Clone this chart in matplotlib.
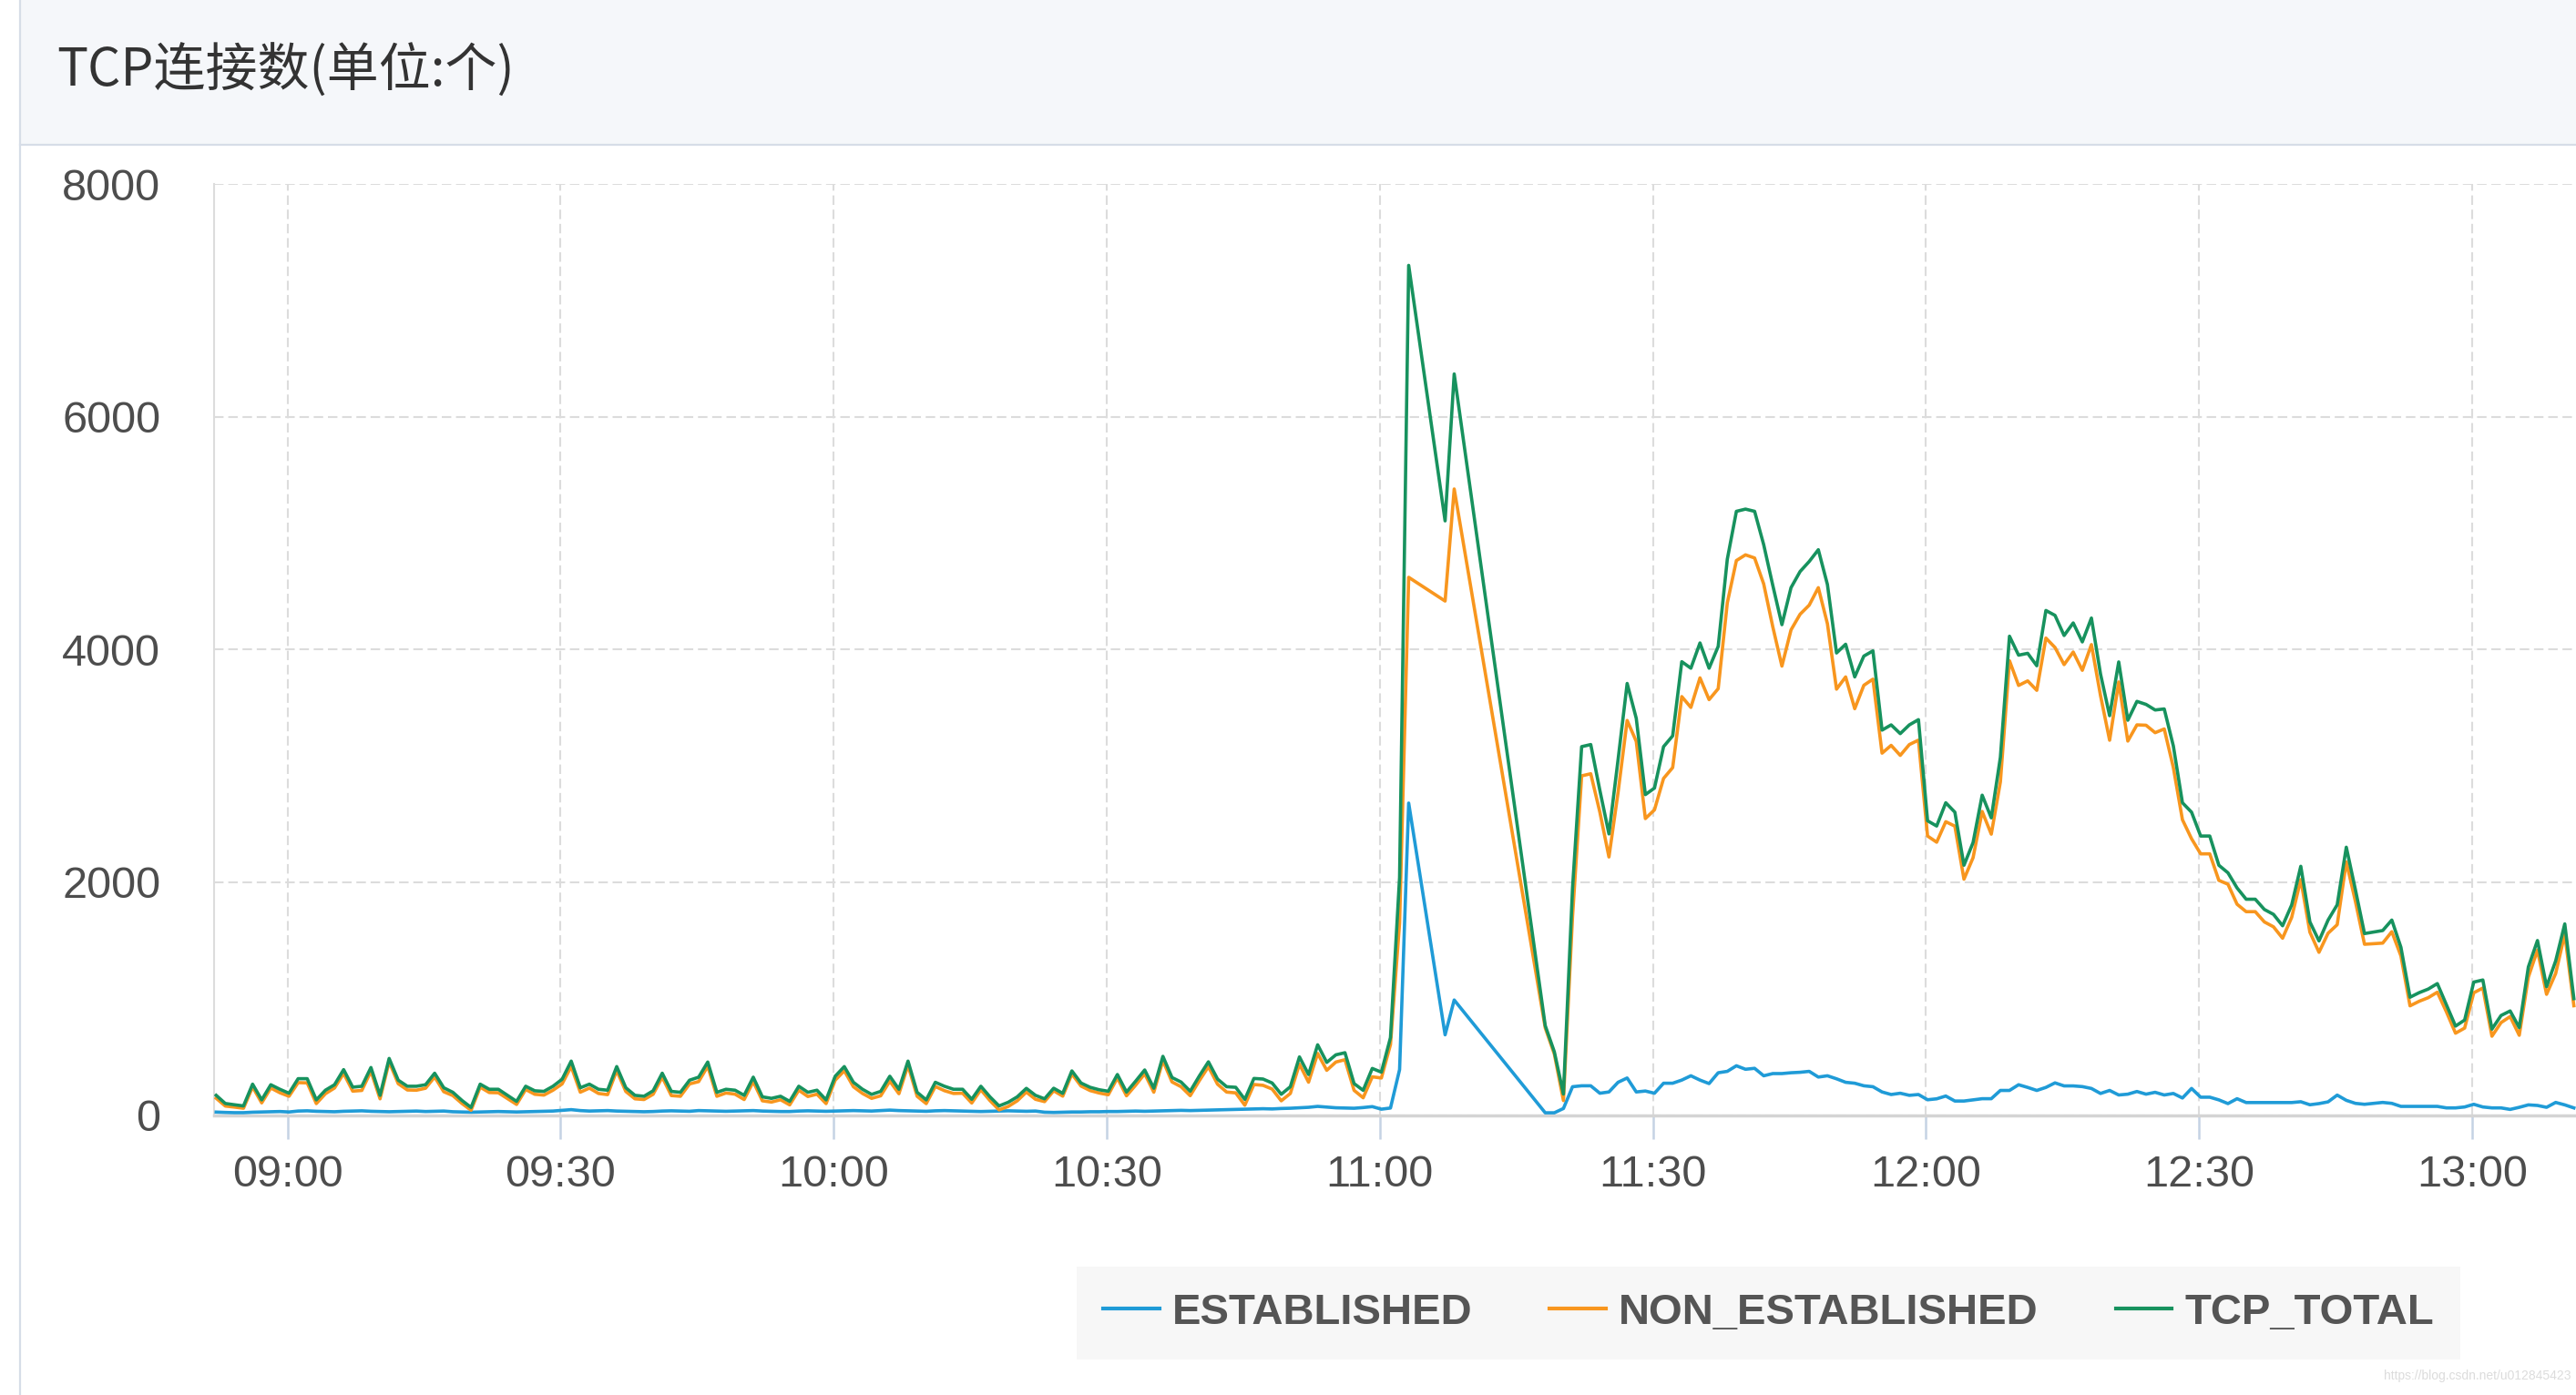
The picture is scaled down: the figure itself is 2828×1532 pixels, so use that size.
import numpy as np
import pandas as pd
import matplotlib
matplotlib.use("Agg")
import matplotlib.pyplot as plt
import matplotlib.dates as mdates
from matplotlib.patches import Rectangle
from matplotlib.lines import Line2D

plt.rcParams['font.family'] = ['Liberation Sans', 'Noto Sans CJK SC', 'DejaVu Sans']

title = "TCP连接数(单位:个)"
series_names = ["ESTABLISHED", "NON_ESTABLISHED", "TCP_TOTAL"]
series_colors = ["#1f9bd7", "#f8961e", "#17925e"]
start_time = "2019-01-01 08:52:10"   # one sample per minute
y_ticks = [0, 2000, 4000, 6000, 8000]

# TCP_TOTAL, None = no sample (line is drawn straight across the gap)
tcp_total = [
    169, 99, 88, 78, 265, 130, 260, 221, 187, 312,
    312, 130, 213, 260, 390, 239, 247, 408, 169, 486,
    299, 247, 247, 260, 359, 234, 195, 125, 65, 265,
    221, 221, 169, 117, 247, 208, 203, 247, 307, 463,
    234, 265, 221, 213, 416, 234,
    169, 161, 208, 359, 203, 195, 299, 325, 455, 195,
    221, 213, 169, 325, 156, 143, 161, 117, 247, 195,
    213, 130, 333, 416, 281, 221, 177, 203, 333, 221,
    463, 195, 130, 281, 247, 221, 221, 135, 247, 156,
    78, 109, 156, 229, 169,
    139, 230, 186, 379, 275, 238, 217, 204, 348, 197,
    290, 387, 230, 504, 322, 283, 204, 335, 457, 309,
    243, 238, 134, 314, 309, 275, 178, 243, 499, 348,
    603, 452, 517, 535, 270, 212, 400, 368, 665,
    2040, 7300, None, None, None, 5105, 6367,
    None, None, None, None, None, None, None, None, None,
    768, 543, 180, 1950,
    3165, 3183, 2790, 2415, 3052, 3708, 3408, 2753, 2809, 3165,
    3258, 3895, 3839, 4056, 3839, 4026, 4775, 5187, 5206, 5187,
    4900, 4550, 4213, 4531, 4670, 4756, 4857, 4558, 3970, 4045,
    3764, 3943, 3988, 3307, 3352, 3277, 3352, 3397, 2528, 2483,
    2683, 2602, 2146, 2341, 2748, 2553, 3073, 4114, 3951, 3967,
    3860, 4335, 4293, 4120, 4228, 4065, 4270, 3789, 3431, 3893,
    3392, 3554, 3528, 3480, 3489, 3171, 2683, 2602, 2397, 2397,
    2146, 2081, 1951, 1854, 1854, 1766, 1724, 1626, 1805, 2137,
    1659, 1496,
    1675, 1806, 2301, 1936, 1559, 1572, 1585, 1675, 1441, 1012,
    1051, 1082, 1129, 947, 764, 816, 1142, 1160, 738, 855,
    894, 751, 1272, 1499, 1103, 1324, 1642, 1000,
]

established = [
    25, 22, 20, 20, 24, 26, 28, 30, 26, 34,
    36, 32, 30, 28, 32, 34, 36, 32, 30, 28,
    30, 32, 34, 30, 32, 34, 28, 26, 24, 26,
    28, 30, 28, 26, 28, 30, 32, 34, 40, 46,
    38, 34, 36, 38, 34, 32,
    30, 28, 30, 34, 36, 34, 32, 38, 36, 34,
    32, 34, 36, 38, 34, 32, 30, 30, 34, 36,
    34, 32, 34, 36, 38, 36, 34, 38, 42, 38,
    36, 34, 32, 36, 38, 36, 34, 32, 30, 32,
    34, 36, 34, 32, 34,
    24, 22, 24, 26, 26, 28, 28, 30, 30, 32,
    34, 32, 34, 36, 38, 40, 38, 40, 42, 44,
    46, 48, 50, 52, 54, 52, 56, 58, 62, 66,
    74, 68, 62, 60, 58, 64, 72, 50, 60,
    390, 2680, None, None, None, 689, 988,
    None, None, None, None, None, None, None, None, None,
    19, 19, 56, 243, 251, 251, 187, 198, 281, 318,
    198, 206, 187, 273, 273, 300, 337, 300, 270, 363,
    375, 423, 393, 401, 337, 356, 356, 363, 367, 375,
    326, 337, 311, 281, 273, 251, 243, 198, 176, 187,
    169, 176, 131, 139,
    163, 120, 120, 130, 140, 140, 211, 211, 260, 237,
    211, 237, 276, 250, 250, 244, 228, 185, 211, 172,
    179, 202, 179, 195, 172, 185, 146, 228, 153, 153,
    130, 98, 140, 107, 107, 107, 107, 107, 107, 114,
    88, 98,
    113, 171, 126, 100, 92, 100, 108, 100, 74, 74,
    74, 74, 74, 61, 61, 69, 92, 69, 61, 61,
    48, 66, 87, 82, 66, 108, 87, 61,
]

total = np.array([np.nan if v is None else v for v in tcp_total], dtype=float)
est = np.array([np.nan if v is None else v for v in established], dtype=float)
non_est = total - est
times = pd.date_range(start_time, periods=len(total), freq="min")
ok = ~np.isnan(total)

W, H = 2828, 1532
fig = plt.figure(figsize=(W / 100, H / 100), dpi=100)
fig.patch.set_facecolor("white")

# header bar and panel border
fig.patches.append(Rectangle((22 / W, 1 - 159 / H), 1, 159 / H, transform=fig.transFigure,
                             facecolor="#f5f7fa", edgecolor="none", zorder=0))
fig.add_artist(Line2D([22 / W, 1], [1 - 159 / H] * 2, transform=fig.transFigure,
                      color="#d6dde7", lw=1.6))
fig.add_artist(Line2D([22 / W] * 2, [0, 1], transform=fig.transFigure,
                      color="#d6dde7", lw=1.6))
fig.text(62 / W, 1 - 78 / H, title, ha="left", va="center", fontsize=41,
         color="#333333", family=["Noto Sans CJK SC", "DejaVu Sans"])

ax = fig.add_axes([234.5 / W, 1 - 1224.5 / H, 1 - 234.5 / W, (1224.5 - 202) / H])
for name, vals, col in zip(series_names, [est, non_est, total], series_colors):
    ax.plot(times[ok], vals[ok], color=col, lw=2.6, label=name, zorder=3)

ax.set_ylim(0, 8000)
ax.set_yticks(y_ticks)
ax.set_xlim(pd.Timestamp("2019-01-01 08:51:53"), pd.Timestamp("2019-01-01 13:11:24"))
ax.xaxis.set_major_locator(mdates.MinuteLocator(byminute=[0, 30]))
ax.xaxis.set_major_formatter(mdates.DateFormatter("%H:%M"))

ax.grid(True, color="#dcdcdc", lw=1.5, linestyle=(0, (5, 2.5)))
for s in ["top", "right"]:
    ax.spines[s].set_visible(False)
ax.spines["left"].set_color("#dcdcdc")
ax.spines["left"].set_linewidth(1.5)
ax.spines["bottom"].set_color("#d4d4d4")
ax.spines["bottom"].set_linewidth(2.5)
ax.tick_params(axis="y", length=0, pad=42, labelsize=35, labelcolor="#4d4d4d")
ax.tick_params(axis="x", length=19, width=1.8, color="#c5d3e4", pad=12,
               labelsize=35, labelcolor="#4d4d4d")

leg = fig.legend(loc="center", bbox_to_anchor=(1941.5 / W, 1 - 1442 / H), ncol=3,
                 frameon=True, fancybox=False, facecolor="#f7f7f7", edgecolor="none",
                 framealpha=1, handlelength=1.3, handletextpad=0.3, columnspacing=1.8,
                 borderpad=0.62, prop={"family": "Liberation Sans", "weight": "bold", "size": 34})
for t in leg.get_texts():
    t.set_color("#555555")
for h in leg.legend_handles:
    h.set_linewidth(3)

fig.text(0.998, 0.009, "https://blog.csdn.net/u012845423", ha="right", va="bottom",
         fontsize=10, color="#dcdcdc")

fig.savefig("out.png", dpi=100)
